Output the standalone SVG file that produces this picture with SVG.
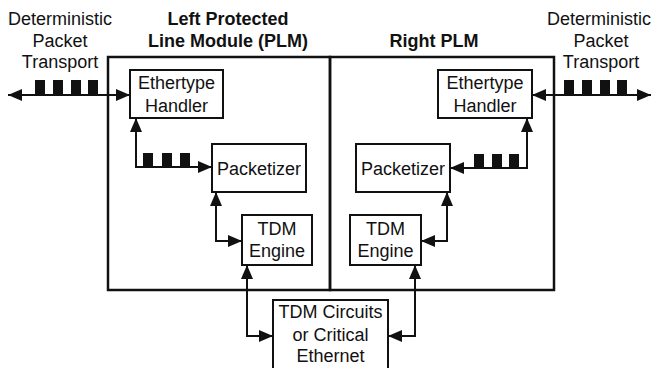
<svg xmlns="http://www.w3.org/2000/svg" width="652" height="368" viewBox="0 0 652 368">
<style>
text{font-family:"Liberation Sans",Arial,sans-serif;font-size:18px;fill:#111;text-anchor:middle}
.b{font-weight:bold}
.box{fill:#fff;stroke:#111;stroke-width:2}
.plm{fill:none;stroke:#111;stroke-width:2.5}
.c{fill:none;stroke:#111;stroke-width:2}
.pk{fill:#111}
</style>
<defs>
<marker id="ah" markerUnits="userSpaceOnUse" markerWidth="14" markerHeight="12" refX="14" refY="6" orient="auto-start-reverse" viewBox="0 0 14 12">
<path d="M0,0 L14,6 L0,12 z" fill="#111"/>
</marker>
</defs>
<rect width="652" height="368" fill="#fff"/>
<g id="labels">
<text x="60" y="25">Deterministic</text>
<text x="60" y="47">Packet</text>
<text x="60" y="68">Transport</text>
<text x="599" y="25">Deterministic</text>
<text x="601" y="47">Packet</text>
<text x="601" y="68">Transport</text>
</g>
<g id="left-plm">
<rect class="plm" x="108" y="57" width="222" height="233"/>
<text class="b" x="228" y="25">Left Protected</text>
<text class="b" x="228" y="47">Line Module (PLM)</text>
</g>
<g id="right-plm">
<rect class="plm" x="330" y="57" width="224" height="233"/>
<text class="b" x="434" y="47">Right PLM</text>
</g>
<g id="left-ethertype">
<rect class="box" x="130" y="70" width="93" height="48"/>
<text x="176.5" y="89">Ethertype</text>
<text x="176.5" y="112">Handler</text>
</g>
<g id="left-packetizer">
<rect class="box" x="212" y="144" width="94" height="48"/>
<text x="259" y="175">Packetizer</text>
</g>
<g id="left-tdm">
<rect class="box" x="242" y="215" width="70" height="50"/>
<text x="277" y="235">TDM</text>
<text x="277" y="257">Engine</text>
</g>
<g id="right-ethertype">
<rect class="box" x="438" y="70" width="94" height="48"/>
<text x="485" y="89">Ethertype</text>
<text x="485" y="112">Handler</text>
</g>
<g id="right-packetizer">
<rect class="box" x="356" y="144" width="94" height="48"/>
<text x="403" y="175">Packetizer</text>
</g>
<g id="right-tdm">
<rect class="box" x="350" y="215" width="71" height="50"/>
<text x="385.5" y="235">TDM</text>
<text x="385.5" y="257">Engine</text>
</g>
<g id="tdm-circuits">
<rect class="box" x="273" y="300" width="115" height="70"/>
<text x="330.5" y="318">TDM Circuits</text>
<text x="330.5" y="341">or Critical</text>
<text x="330.5" y="362">Ethernet</text>
</g>
<g id="connectors">
<path class="c" d="M8,95 H130" marker-start="url(#ah)" marker-end="url(#ah)"/>
<path class="c" d="M136,118 V167 H212" marker-start="url(#ah)" marker-end="url(#ah)"/>
<path class="c" d="M216,192 V241 H242" marker-start="url(#ah)" marker-end="url(#ah)"/>
<path class="c" d="M247,265 V336 H273" marker-start="url(#ah)" marker-end="url(#ah)"/>
<path class="c" d="M388,336 H415 V265" marker-start="url(#ah)" marker-end="url(#ah)"/>
<path class="c" d="M421,241 H447 V192" marker-start="url(#ah)" marker-end="url(#ah)"/>
<path class="c" d="M450,168 H527 V118" marker-start="url(#ah)" marker-end="url(#ah)"/>
<path class="c" d="M532,95 H651" marker-start="url(#ah)" marker-end="url(#ah)"/>
<g id="packets">
<rect class="pk" x="35" y="80" width="10" height="15"/>
<rect class="pk" x="53" y="80" width="10" height="15"/>
<rect class="pk" x="71" y="80" width="10" height="15"/>
<rect class="pk" x="88" y="80" width="10" height="15"/>
<rect class="pk" x="143" y="153" width="10" height="14"/>
<rect class="pk" x="162" y="153" width="10" height="14"/>
<rect class="pk" x="180" y="153" width="10" height="14"/>
<rect class="pk" x="474" y="154" width="10" height="14"/>
<rect class="pk" x="492" y="154" width="10" height="14"/>
<rect class="pk" x="509" y="154" width="10" height="14"/>
<rect class="pk" x="564" y="80" width="10" height="15"/>
<rect class="pk" x="582" y="80" width="10" height="15"/>
<rect class="pk" x="600" y="80" width="10" height="15"/>
<rect class="pk" x="617" y="80" width="10" height="15"/>
</g>
</g>
</svg>
